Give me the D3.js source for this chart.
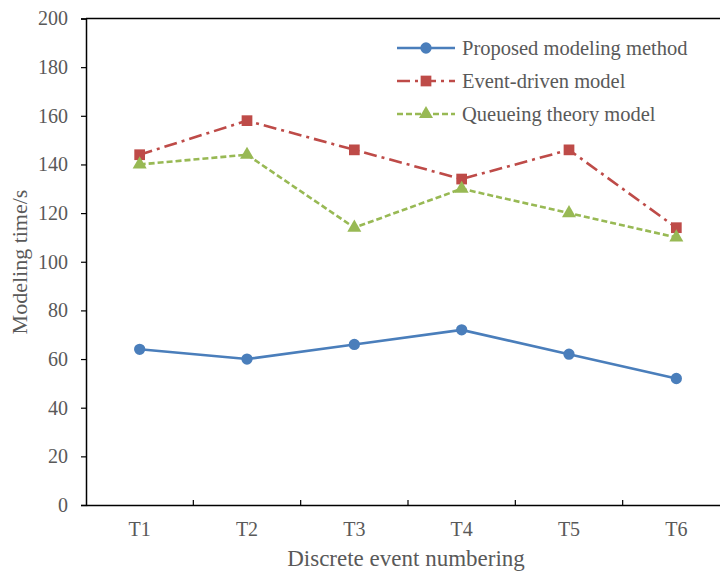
<!DOCTYPE html>
<html>
<head>
<meta charset="utf-8">
<script src="https://cdn.jsdelivr.net/npm/d3@7/dist/d3.min.js"></script>
<style>
html,body{margin:0;padding:0;background:#fff;}
svg{display:block;}
</style>
</head>
<body>
<svg id="chart" width="720" height="572"></svg>
<script>
const categories = ["T1","T2","T3","T4","T5","T6"];
const proposed = [64,60,66,72,62,52];
const eventDriven = [144,158,146,134,146,114];
const queueing = [140,144,114,130,120,110];
const yTicks = [0,20,40,60,80,100,120,140,160,180,200];
const seriesNames = ["Proposed modeling method","Event-driven model","Queueing theory model"];

const FONT = "'Liberation Serif', 'Times New Roman', Times, serif";
const TXT = "#595959";
const svg = d3.select("#chart");
const pLeft = 86, pTop = 18.5, pBottom = 505, pRight = 730;

const x = d3.scaleBand().domain(categories).range([pLeft, pRight]);
const y = d3.scaleLinear().domain([0,200]).range([pBottom, pTop]);

// frame
svg.append("line").attr("x1",pLeft).attr("x2",pRight).attr("y1",pTop).attr("y2",pTop)
  .attr("stroke","#000").attr("stroke-width",1.5);

// y axis
const yAxis = svg.append("g").attr("transform",`translate(${pLeft},0)`)
  .call(d3.axisLeft(y).tickValues(yTicks).tickSize(5).tickPadding(13).tickFormat(d3.format("d")));
yAxis.attr("font-family",null).attr("font-size",null);
yAxis.select(".domain").attr("stroke","#000").attr("stroke-width",1.5);
yAxis.selectAll(".tick line").attr("stroke","#000").attr("stroke-width",1.2);
yAxis.selectAll(".tick text").style("font-family",FONT).style("font-size","20px").attr("fill",TXT);

// x axis
const xAxis = svg.append("g").attr("transform",`translate(0,${pBottom})`)
  .call(d3.axisBottom(x).tickSize(0).tickPadding(17));
xAxis.attr("font-family",null).attr("font-size",null);
xAxis.select(".domain").attr("stroke","#000").attr("stroke-width",1.5);
xAxis.selectAll(".tick text").style("font-family",FONT).style("font-size","20px").attr("fill",TXT);
// boundary ticks (inward)
svg.append("g").selectAll("line").data(categories.slice(1)).join("line")
  .attr("x1",d=>x(d)).attr("x2",d=>x(d)).attr("y1",pBottom).attr("y2",pBottom-5)
  .attr("stroke","#000").attr("stroke-width",1.2);

// axis titles
svg.append("text").attr("transform","translate(27,262) rotate(-90)")
  .attr("text-anchor","middle").style("font-family",FONT).style("font-size","22px").attr("fill",TXT).text("Modeling time/s");
svg.append("text").attr("x",406).attr("y",566)
  .attr("text-anchor","middle").style("font-family",FONT).style("font-size","23px").attr("fill",TXT).text("Discrete event numbering");

const cx = d => x(d) + x.bandwidth()/2;
const series = [
  {name:seriesNames[0], values:proposed, color:"#4a7ebb", dash:null, marker:"circle"},
  {name:seriesNames[1], values:eventDriven, color:"#be4b48", dash:"13,5,3,5", marker:"square"},
  {name:seriesNames[2], values:queueing, color:"#98b954", dash:"6,3", marker:"triangle"}
];
const symbolFor = m => m==="circle" ? d3.symbol(d3.symbolCircle, 100)
  : m==="square" ? d3.symbol(d3.symbolSquare, 115) : d3.symbol(d3.symbolTriangle, 85);

const line = d3.line().x((d,i)=>cx(categories[i])).y(d=>y(d));
series.forEach(s=>{
  svg.append("path").datum(s.values).attr("d",line)
    .attr("fill","none").attr("stroke",s.color).attr("stroke-width",2.6)
    .attr("stroke-dasharray",s.dash);
  svg.append("g").selectAll("path").data(s.values).join("path")
    .attr("transform",(d,i)=>`translate(${cx(categories[i])},${y(d)})`)
    .attr("d",symbolFor(s.marker)()).attr("fill",s.color);
});

// legend
const lg = svg.append("g");
series.forEach((s,i)=>{
  const yy = 48 + i*33;
  lg.append("line").attr("x1",397).attr("x2",455).attr("y1",yy).attr("y2",yy)
    .attr("stroke",s.color).attr("stroke-width",2.6).attr("stroke-dasharray",s.dash);
  lg.append("path").attr("transform",`translate(426,${yy})`)
    .attr("d",symbolFor(s.marker)()).attr("fill",s.color);
  lg.append("text").attr("x",462).attr("y",yy+7).style("font-family",FONT).style("font-size","20.5px").attr("fill",TXT).text(s.name);
});
</script>
</body>
</html>
